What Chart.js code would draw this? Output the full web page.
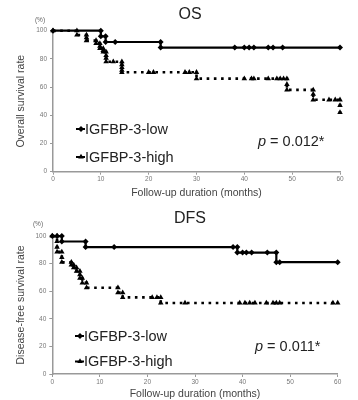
<!DOCTYPE html>
<html>
<head>
<meta charset="utf-8">
<script src="https://cdn.jsdelivr.net/npm/chart.js@4.4.1/dist/chart.umd.min.js"></script>
<style>
  html, body { margin: 0; padding: 0; background: #fff; }
  #wrap { position: relative; width: 358px; height: 400px; }
  canvas { position: absolute; left: 0; }
</style>
</head>
<body>
<div id="wrap">
  <canvas id="osChart" width="358" height="200" style="top:0"></canvas>
  <canvas id="dfsChart" width="358" height="200" style="top:200px"></canvas>
</div>
<script>
// ---- data (months, survival %) ----
const xTicks = [0, 10, 20, 30, 40, 50, 60];
const yTicks = [0, 20, 40, 60, 80, 100];

// OS, IGFBP-3-low (solid)
const osLowTime = [0, 10, 10, 11, 11, 13, 22.5, 22.5, 38, 40, 41, 42, 45, 46, 48, 60];
const osLowSurv = [100, 100, 96, 96, 92, 92, 92, 88, 88, 88, 88, 88, 88, 88, 88, 88];

// OS, IGFBP-3-high (dotted)
const osHighTime = [0, 5, 5, 7, 7, 7, 9, 9, 9.8, 9.8, 9.8, 10.5, 10.5, 10.5, 11.1, 11.1, 11.1, 11.1,
  12.6, 14.4, 14.4, 14.4, 14.4, 14.4, 20, 21, 27.6, 28.5, 30, 30,
  40, 41.5, 42, 45, 46.8, 47.5, 48.2, 48.9, 48.9, 48.9, 54.4, 54.4, 54.4, 57.7, 59, 60, 60, 60];
const osHighSurv = [100, 100, 97, 97, 95, 93, 93, 91, 91, 89, 87.5, 87.5, 86, 85, 85, 82.5, 80.5, 78,
  78, 78, 76, 74, 72, 70.5, 70.5, 70.5, 70.5, 70.5, 70.5, 66,
  66, 66, 66, 66, 66, 66, 66, 66, 62, 58, 58, 55, 51, 51, 51, 51, 47, 42];

// DFS, IGFBP-3-low (solid)
const dfsLowTime = [0, 1, 2, 2, 7, 7, 13, 38, 38.9, 38.9, 40, 40.8, 41.9, 45.2, 47.1, 47.1, 47.8, 60];
const dfsLowSurv = [100, 100, 100, 96, 96, 92, 92, 92, 92, 88, 88, 88, 88, 88, 88, 81, 81, 81];

// DFS, IGFBP-3-high (dotted)
const dfsHighTime = [0, 1, 1, 1, 1, 2, 2, 2, 4, 4, 4.5, 4.5, 5.1, 5.1, 5.8, 5.8, 5.8, 6.3, 6.3, 7.2, 7.2,
  13.8, 13.8, 14.8, 14.8, 21, 22, 22.8, 22.8, 27.9, 39.4, 40.5, 41.5, 42.6, 45, 46.4, 47.1, 47.8, 59, 60];
const dfsHighSurv = [100, 100, 96, 92, 88.5, 88.5, 84.5, 81, 81, 79, 79, 77, 77, 74.5, 74.5, 72, 69.5, 69.5, 66, 66, 62.5,
  62.5, 59, 59, 55.5, 55.5, 55.5, 55.5, 51.5, 51.5, 51.5, 51.5, 51.5, 51.5, 51.5, 51.5, 51.5, 51.5, 51.5, 51.5];

const seriesNames = ['IGFBP-3-low', 'IGFBP-3-high'];

function toPoints(times, values) {
    return times.map((t, i) => ({ x: t, y: values[i] }));
}

const FONT = '"Liberation Sans", Arial, sans-serif';

// titles, "(%)", legend and p value drawn on top of the chart
const extraText = {
    id: 'extraText',
    afterDraw(chart, args, opts) {
        const ctx = chart.ctx;
        const H = Chart.helpers;
        ctx.save();
        ctx.textBaseline = 'middle';

        ctx.fillStyle = '#222';
        ctx.textAlign = 'center';
        ctx.font = '16px ' + FONT;
        ctx.fillText(opts.title, opts.titleX, opts.titleY);

        ctx.fillStyle = '#666';
        ctx.font = '6.5px ' + FONT;
        ctx.fillText('(%)', opts.pctX, opts.pctY);

        // legend
        ctx.textAlign = 'left';
        ctx.font = '14.5px ' + FONT;
        ctx.fillStyle = '#222';
        opts.legendY.forEach((ly, i) => {
            ctx.strokeStyle = '#000';
            ctx.lineWidth = 2;
            ctx.beginPath();
            ctx.moveTo(opts.legendX - 9, ly);
            ctx.lineTo(opts.legendX, ly);
            ctx.stroke();
            ctx.fillStyle = '#000';
            H.drawPoint(ctx, {
                pointStyle: i === 0 ? 'rectRot' : 'triangle',
                radius: i === 0 ? 3 : 3.2,
                rotation: 0
            }, opts.legendX - 4, ly);
            ctx.fillStyle = '#222';
            ctx.fillText(seriesNames[i], opts.legendX, ly + 0.5);
        });

        // p value
        ctx.font = 'italic 14.5px ' + FONT;
        ctx.fillText('p', opts.pX, opts.pY);
        const pw = ctx.measureText('p').width;
        ctx.font = '14.5px ' + FONT;
        ctx.fillText(' = ' + opts.pValue + '*', opts.pX + pw, opts.pY);
        ctx.restore();
    }
};

function makeChart(canvasId, low, high, yTitle, layout, text) {
    const lowPts = toPoints(low[0], low[1]);
    const highPts = toPoints(high[0], high[1]);

    const config = {
        type: 'line',
        data: {
            datasets: [{
                label: seriesNames[0],
                data: lowPts,
                stepped: true,
                borderColor: '#000',
                borderWidth: 2.2,
                pointStyle: 'rectRot',
                pointRadius: 3,
                pointBackgroundColor: '#000',
                pointBorderWidth: 0,
                clip: false
            }, {
                label: seriesNames[1],
                data: highPts,
                stepped: true,
                borderColor: '#000',
                borderWidth: 2.6,
                borderDash: [2.6, 4.6],
                pointStyle: 'triangle',
                pointRadius: 3.2,
                pointBackgroundColor: '#000',
                pointBorderWidth: 0,
                clip: false
            }]
        },
        options: {
            responsive: false,
            animation: false,
            layout: { padding: { left: 0, top: layout.top, right: layout.right, bottom: 0 } },
            plugins: {
                legend: { display: false },
                tooltip: { enabled: false },
                extraText: text
            },
            scales: {
                x: {
                    type: 'linear',
                    min: 0,
                    max: 60,
                    afterBuildTicks: s => { s.ticks = xTicks.map(v => ({ value: v })); },
                    afterFit: s => { s.height = layout.xHeight; },
                    grid: { drawOnChartArea: false, tickLength: 3, color: '#999' },
                    border: { color: '#999', width: 1.5 },
                    ticks: { color: '#777', font: { size: 6.5, family: FONT }, padding: 1, maxRotation: 0 },
                    title: {
                        display: true,
                        text: 'Follow-up duration (months)',
                        color: '#444',
                        font: { size: 10.5, family: FONT },
                        padding: { top: 0, bottom: layout.xTitlePad }
                    }
                },
                y: {
                    min: 0,
                    max: 100,
                    afterBuildTicks: s => { s.ticks = yTicks.map(v => ({ value: v })); },
                    afterFit: s => { s.width = layout.yWidth; },
                    grid: { drawOnChartArea: false, tickLength: 3, color: '#999' },
                    border: { color: '#999', width: 1.5 },
                    ticks: { color: '#777', font: { size: 6.5, family: FONT }, padding: 3 },
                    title: {
                        display: true,
                        text: yTitle,
                        color: '#444',
                        font: { size: 10.5, family: FONT },
                        padding: { top: 15, bottom: 0 }
                    }
                }
            }
        },
        plugins: [extraText]
    };

    return new Chart(document.getElementById(canvasId), config);
}

makeChart('osChart', [osLowTime, osLowSurv], [osHighTime, osHighSurv], 'Overall survival rate',
    { top: 30.7, right: 18, xHeight: 28.3, yWidth: 53, xTitlePad: 1 },
    { title: 'OS', titleX: 190, titleY: 15, pctX: 40, pctY: 20,
      legendX: 85, legendY: [129, 157], pX: 258, pY: 142, pValue: '0.012' });

makeChart('dfsChart', [dfsLowTime, dfsLowSurv], [dfsHighTime, dfsHighSurv], 'Disease-free survival rate',
    { top: 36, right: 20.3, xHeight: 26, yWidth: 52.3, xTitlePad: 0 },
    { title: 'DFS', titleX: 190, titleY: 19, pctX: 38, pctY: 24,
      legendX: 84, legendY: [136, 161.5], pX: 255, pY: 147, pValue: '0.011' });
</script>
</body>
</html>
